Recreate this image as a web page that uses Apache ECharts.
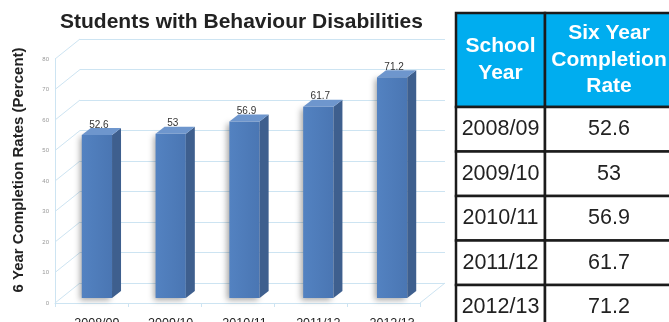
<!DOCTYPE html>
<html>
<head>
<meta charset="utf-8">
<script src="https://cdn.jsdelivr.net/npm/echarts@6/dist/echarts.min.js"></script>
<style>
  html, body { margin: 0; padding: 0; background: #fff; }
  #chart { width: 669px; height: 322px; }
</style>
</head>
<body>
<div id="chart"></div>
<script>
// Data
const schoolYears = ['2008/09', '2009/10', '2010/11', '2011/12', '2012/13'];
const completionRates = [52.6, 53, 56.9, 61.7, 71.2];
const yTicks = [0, 10, 20, 30, 40, 50, 60, 70, 80];
const chartTitle = 'Students with Behaviour Disabilities';
const yTitle = '6 Year Completion Rates (Percent)';
const headerLines = [['School', 'Year'], ['Six Year', 'Completion', 'Rate']];

// Layout of the pseudo-3D plot box
const FRONT = { left: 55, top: 59, width: 365, height: 244 };
const WALL_DEPTH = [25, -20];     // offset from front plane to back wall
const BAR_DEPTH = [9, -7];        // extrusion of each bar
const GRID_COLOR = '#cde4f2';
const FONT = '"Liberation Sans", Arial, Helvetica, sans-serif';

const chart = echarts.init(document.getElementById('chart'), null, { renderer: 'canvas' });

// Left wall / floor edges: one diagonal per tick, joining front plane to back wall
function renderWall(params, api) {
  const cs = params.coordSys;
  const v = api.value(0);
  const y = api.coord([0, v])[1];
  const children = [{
    type: 'line',
    shape: { x1: cs.x, y1: y, x2: cs.x + WALL_DEPTH[0], y2: y + WALL_DEPTH[1] },
    style: { stroke: GRID_COLOR, lineWidth: 1 }
  }];
  if (v === 0) {
    const xr = cs.x + cs.width;
    children.push({
      type: 'line',
      shape: { x1: xr, y1: y, x2: xr + WALL_DEPTH[0], y2: y + WALL_DEPTH[1] },
      style: { stroke: GRID_COLOR, lineWidth: 1 }
    });
  }
  return { type: 'group', children };
}

// Extruded bars with value labels
function renderBar(params, api) {
  const idx = api.value(0);
  const val = api.value(1);
  const top = api.coord([idx, val]);
  const base = api.coord([idx, 0]);
  const bw = api.size([1, 0])[0] * 0.41;
  const l = top[0] - bw / 2, r = top[0] + bw / 2;
  const dx = BAR_DEPTH[0], dy = BAR_DEPTH[1];
  return {
    type: 'group',
    children: [
      {
        type: 'rect',
        shape: { x: l, y: top[1], width: bw, height: base[1] - top[1] },
        style: {
          fill: new echarts.graphic.LinearGradient(0, 0, 1, 0, [
            { offset: 0, color: '#5382c1' },
            { offset: 1, color: '#4a76b3' }
          ]),
          shadowBlur: 6, shadowColor: 'rgba(0,0,0,0.35)', shadowOffsetX: -2, shadowOffsetY: 2
        }
      },
      {
        type: 'polygon',
        shape: { points: [[r, top[1]], [r + dx, top[1] + dy], [r + dx, base[1] + dy], [r, base[1]]] },
        style: { fill: '#3e5f8e' }
      },
      {
        type: 'polygon',
        shape: { points: [[l, top[1]], [l + dx, top[1] + dy], [r + dx, top[1] + dy], [r, top[1]]] },
        style: { fill: '#6e96cd' }
      },
      {
        type: 'text',
        x: top[0] + 2, y: top[1] + dy + 2,
        style: {
          text: String(val), align: 'center', verticalAlign: 'bottom',
          font: '10px ' + FONT, fill: '#333'
        }
      }
    ]
  };
}

// Table cells: one band of a category axis per row
function cellRenderer(bg, textColor, font, lineHeight, textOf) {
  return function (params, api) {
    const row = api.value(1);
    const p = api.coord([0, row]);
    const w = api.size([1, 0])[0];
    const h = api.size([0, 1])[1];
    return {
      type: 'group',
      children: [
        {
          type: 'rect',
          shape: { x: p[0], y: p[1] - h / 2, width: w, height: h },
          style: { fill: bg, stroke: '#1b1b1b', lineWidth: 2.5 }
        },
        {
          type: 'text',
          x: p[0] + w / 2, y: p[1],
          style: {
            text: textOf(params.dataIndex), align: 'center', verticalAlign: 'middle',
            font: font, fill: textColor, lineHeight: lineHeight
          }
        }
      ]
    };
  };
}

const HEAD_TOP = 13, HEAD_H = 94, ROW_H = 44.5;
const COL_L = { left: 456, width: 89 };
const COL_R = { left: 545, width: 128 };

function grid(g) {
  return Object.assign({ outerBoundsMode: 'none', containLabel: false }, g);
}

const option = {
  backgroundColor: '#fff',
  animation: false,
  title: {
    text: chartTitle, left: 60, top: 12, padding: 0,
    textStyle: { fontFamily: FONT, fontSize: 21, fontWeight: 'bold', color: '#222' }
  },
  graphic: [{
    type: 'text', x: 19, y: 170, rotation: Math.PI / 2,
    style: {
      text: yTitle, align: 'center', verticalAlign: 'middle',
      font: 'bold 15px ' + FONT, fill: '#222'
    }
  }],
  grid: [
    // 0: back wall
    grid({ left: FRONT.left + WALL_DEPTH[0], top: FRONT.top + WALL_DEPTH[1], width: FRONT.width, height: FRONT.height }),
    // 1: front plane (tick labels, floor edge)
    grid({ left: FRONT.left, top: FRONT.top, width: FRONT.width, height: FRONT.height }),
    // 2: bars
    grid({ left: 60, top: 50, width: 369, height: 248 }),
    // 3-6: table columns
    grid({ left: COL_L.left, top: HEAD_TOP, width: COL_L.width, height: HEAD_H }),
    grid({ left: COL_R.left, top: HEAD_TOP, width: COL_R.width, height: HEAD_H }),
    grid({ left: COL_L.left, top: HEAD_TOP + HEAD_H, width: COL_L.width, height: ROW_H * 5 }),
    grid({ left: COL_R.left, top: HEAD_TOP + HEAD_H, width: COL_R.width, height: ROW_H * 5 })
  ],
  xAxis: [
    { gridIndex: 0, type: 'category', data: schoolYears, show: false },
    {
      gridIndex: 1, type: 'category', data: schoolYears,
      axisLine: { lineStyle: { color: GRID_COLOR } },
      axisTick: { show: true, length: 4, lineStyle: { color: GRID_COLOR } },
      axisLabel: { show: false }
    },
    {
      gridIndex: 2, type: 'category', data: schoolYears,
      axisLine: { show: false }, axisTick: { show: false },
      axisLabel: { fontFamily: FONT, fontSize: 12.5, color: '#222', margin: 19 }
    },
    { gridIndex: 3, type: 'value', min: 0, max: 1, show: false },
    { gridIndex: 4, type: 'value', min: 0, max: 1, show: false },
    { gridIndex: 5, type: 'value', min: 0, max: 1, show: false },
    { gridIndex: 6, type: 'value', min: 0, max: 1, show: false }
  ],
  yAxis: [
    {
      gridIndex: 0, type: 'value', min: 0, max: 80, interval: 10,
      axisLine: { show: false }, axisTick: { show: false }, axisLabel: { show: false },
      splitLine: { show: true, lineStyle: { color: GRID_COLOR, width: 1 } }
    },
    {
      gridIndex: 1, type: 'value', min: 0, max: 80, interval: 10,
      axisLine: { show: true, lineStyle: { color: GRID_COLOR } }, axisTick: { show: false },
      axisLabel: { fontFamily: FONT, fontSize: 6, color: '#999', margin: 6 },
      splitLine: { show: false }
    },
    { gridIndex: 2, type: 'value', min: 0, max: 80, show: false },
    { gridIndex: 3, type: 'category', data: ['head'], show: false },
    { gridIndex: 4, type: 'category', data: ['head'], show: false },
    { gridIndex: 5, type: 'category', data: schoolYears, inverse: true, show: false },
    { gridIndex: 6, type: 'category', data: schoolYears, inverse: true, show: false }
  ],
  series: [
    {
      type: 'custom', name: 'wall', xAxisIndex: 1, yAxisIndex: 1, silent: true, z: 1,
      data: yTicks.map(v => [v]), encode: { y: 0 },
      renderItem: renderWall
    },
    {
      type: 'custom', name: 'Completion rate', xAxisIndex: 2, yAxisIndex: 2, z: 5,
      data: completionRates.map((v, i) => [i, v]), encode: { x: 0, y: 1 },
      renderItem: renderBar
    },
    {
      type: 'custom', xAxisIndex: 3, yAxisIndex: 3, z: 6,
      data: [[0, 0]], encode: { x: 0, y: 1 },
      renderItem: cellRenderer('#00adef', '#fff', 'bold 21px ' + FONT, 27, () => headerLines[0].join('\n'))
    },
    {
      type: 'custom', xAxisIndex: 4, yAxisIndex: 4, z: 6,
      data: [[0, 0]], encode: { x: 0, y: 1 },
      renderItem: cellRenderer('#00adef', '#fff', 'bold 21px ' + FONT, 26.5, () => headerLines[1].join('\n'))
    },
    {
      type: 'custom', xAxisIndex: 5, yAxisIndex: 5, z: 6,
      data: schoolYears.map((s, i) => [0, i]), encode: { x: 0, y: 1 },
      renderItem: cellRenderer('#fff', '#222', '21.5px ' + FONT, 22, i => schoolYears[i])
    },
    {
      type: 'custom', xAxisIndex: 6, yAxisIndex: 6, z: 6,
      data: completionRates.map((v, i) => [0, i]), encode: { x: 0, y: 1 },
      renderItem: cellRenderer('#fff', '#222', '21.5px ' + FONT, 22, i => String(completionRates[i]))
    }
  ]
};

chart.setOption(option);
</script>
</body>
</html>
